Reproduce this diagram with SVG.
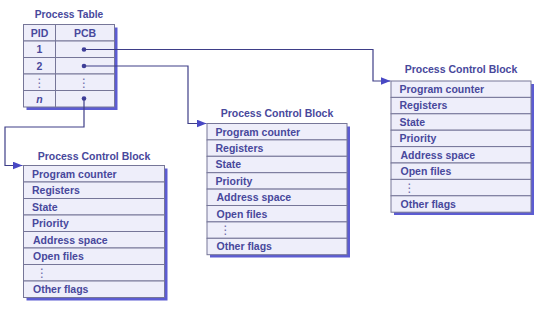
<svg xmlns="http://www.w3.org/2000/svg" width="540" height="309" viewBox="0 0 540 309">
<style>
text{font-family:"Liberation Sans",Arial,sans-serif;font-weight:bold;font-size:10.5px;fill:#48489c}
.title{font-size:10.5px}
.c{text-anchor:middle}
.cell{fill:#eeeefa;stroke:#767698;stroke-width:1}
.shadow{fill:#5c5cd2}
.conn{fill:none;stroke:#3e3e88;stroke-width:1.2}
.vd{font-family:"DejaVu Sans",sans-serif;font-weight:normal;font-size:12px;fill:#6a6aa8}
</style>
<defs>
<marker id="arr" viewBox="0 0 10 8" refX="10" refY="4" markerWidth="10" markerHeight="8" markerUnits="userSpaceOnUse" orient="auto">
<path d="M0,0 L10,4 L0,8 Z" fill="#4848c4"/>
</marker>
</defs>
<rect width="540" height="309" fill="#ffffff"/>

<g id="process-table">
<text x="69" y="17.5" class="c" style="font-size:10.2px">Process Table</text>
<rect x="26.5" y="27.5" width="91" height="82.5" class="shadow"/>
<rect x="23.5" y="24.5" width="32" height="16.5" class="cell"/>
<rect x="55.5" y="24.5" width="59" height="16.5" class="cell"/>
<rect x="23.5" y="41" width="32" height="16.5" class="cell"/>
<rect x="55.5" y="41" width="59" height="16.5" class="cell"/>
<rect x="23.5" y="57.5" width="32" height="16.5" class="cell"/>
<rect x="55.5" y="57.5" width="59" height="16.5" class="cell"/>
<rect x="23.5" y="74" width="32" height="16.5" class="cell"/>
<rect x="55.5" y="74" width="59" height="16.5" class="cell"/>
<rect x="23.5" y="90.5" width="32" height="16.5" class="cell"/>
<rect x="55.5" y="90.5" width="59" height="16.5" class="cell"/>
<text x="39.5" y="36.5" class="c">PID</text>
<text x="85" y="36.5" class="c">PCB</text>
<text x="39.5" y="53" class="c">1</text>
<text x="39.5" y="69.5" class="c">2</text>
<text x="39.5" y="86.5" class="c vd">⋮</text>
<text x="84" y="86.5" class="c vd">⋮</text>
<text x="39.5" y="102.5" class="c" style="font-style:italic">n</text>
<circle cx="84" cy="49.5" r="2.3" fill="#3e3e9a"/>
<circle cx="84" cy="66" r="2.3" fill="#3e3e9a"/>
<circle cx="84" cy="98.5" r="2.3" fill="#3e3e9a"/>
</g>

<g id="connectors">
<path class="conn" d="M84,49.5 H373 V81 H390.5" marker-end="url(#arr)"/>
<path class="conn" d="M84,66 H188 V123.5 H206.5" marker-end="url(#arr)"/>
<path class="conn" d="M84,98.5 V127 H5 V165.5 H22.5" marker-end="url(#arr)"/>
</g>

<g id="pcb-1">
<text x="94" y="159.5" class="c title">Process Control Block</text>
<rect x="26.5" y="168.5" width="141" height="132" class="shadow"/>
<rect x="23.5" y="165.5" width="141" height="16.5" class="cell"/>
<rect x="23.5" y="182" width="141" height="16.5" class="cell"/>
<rect x="23.5" y="198.5" width="141" height="16.5" class="cell"/>
<rect x="23.5" y="215" width="141" height="16.5" class="cell"/>
<rect x="23.5" y="231.5" width="141" height="16.5" class="cell"/>
<rect x="23.5" y="248" width="141" height="16.5" class="cell"/>
<rect x="23.5" y="264.5" width="141" height="16.5" class="cell"/>
<rect x="23.5" y="281" width="141" height="16.5" class="cell"/>
<text x="32" y="177.5">Program counter</text>
<text x="32" y="194">Registers</text>
<text x="32" y="210.5">State</text>
<text x="32" y="227">Priority</text>
<text x="33" y="243.5">Address space</text>
<text x="33" y="260">Open files</text>
<text x="42" y="277" class="c vd">⋮</text>
<text x="33" y="293">Other flags</text>
</g>

<g id="pcb-2">
<text x="277" y="116.5" class="c title">Process Control Block</text>
<rect x="210" y="126.5" width="140" height="131" class="shadow"/>
<rect x="207" y="123.5" width="140" height="16.4" class="cell"/>
<rect x="207" y="139.9" width="140" height="16.4" class="cell"/>
<rect x="207" y="156.3" width="140" height="16.4" class="cell"/>
<rect x="207" y="172.7" width="140" height="16.4" class="cell"/>
<rect x="207" y="189.1" width="140" height="16.4" class="cell"/>
<rect x="207" y="205.5" width="140" height="16.4" class="cell"/>
<rect x="207" y="221.9" width="140" height="16.4" class="cell"/>
<rect x="207" y="238.3" width="140" height="16.4" class="cell"/>
<text x="215.5" y="135.5">Program counter</text>
<text x="215.5" y="151.9">Registers</text>
<text x="215.5" y="168.3">State</text>
<text x="215.5" y="184.7">Priority</text>
<text x="216.5" y="201.1">Address space</text>
<text x="216.5" y="217.5">Open files</text>
<text x="225.5" y="234.4" class="c vd">⋮</text>
<text x="216.5" y="250.3">Other flags</text>
</g>

<g id="pcb-3">
<text x="461" y="73" class="c title">Process Control Block</text>
<rect x="394" y="84" width="140" height="131" class="shadow"/>
<rect x="391" y="81" width="140" height="16.4" class="cell"/>
<rect x="391" y="97.4" width="140" height="16.4" class="cell"/>
<rect x="391" y="113.8" width="140" height="16.4" class="cell"/>
<rect x="391" y="130.2" width="140" height="16.4" class="cell"/>
<rect x="391" y="146.6" width="140" height="16.4" class="cell"/>
<rect x="391" y="163" width="140" height="16.4" class="cell"/>
<rect x="391" y="179.4" width="140" height="16.4" class="cell"/>
<rect x="391" y="195.8" width="140" height="16.4" class="cell"/>
<text x="399.5" y="93">Program counter</text>
<text x="399.5" y="109.4">Registers</text>
<text x="399.5" y="125.8">State</text>
<text x="399.5" y="142.2">Priority</text>
<text x="400.5" y="158.6">Address space</text>
<text x="400.5" y="175">Open files</text>
<text x="409.5" y="191.9" class="c vd">⋮</text>
<text x="400.5" y="207.8">Other flags</text>
</g>
</svg>
